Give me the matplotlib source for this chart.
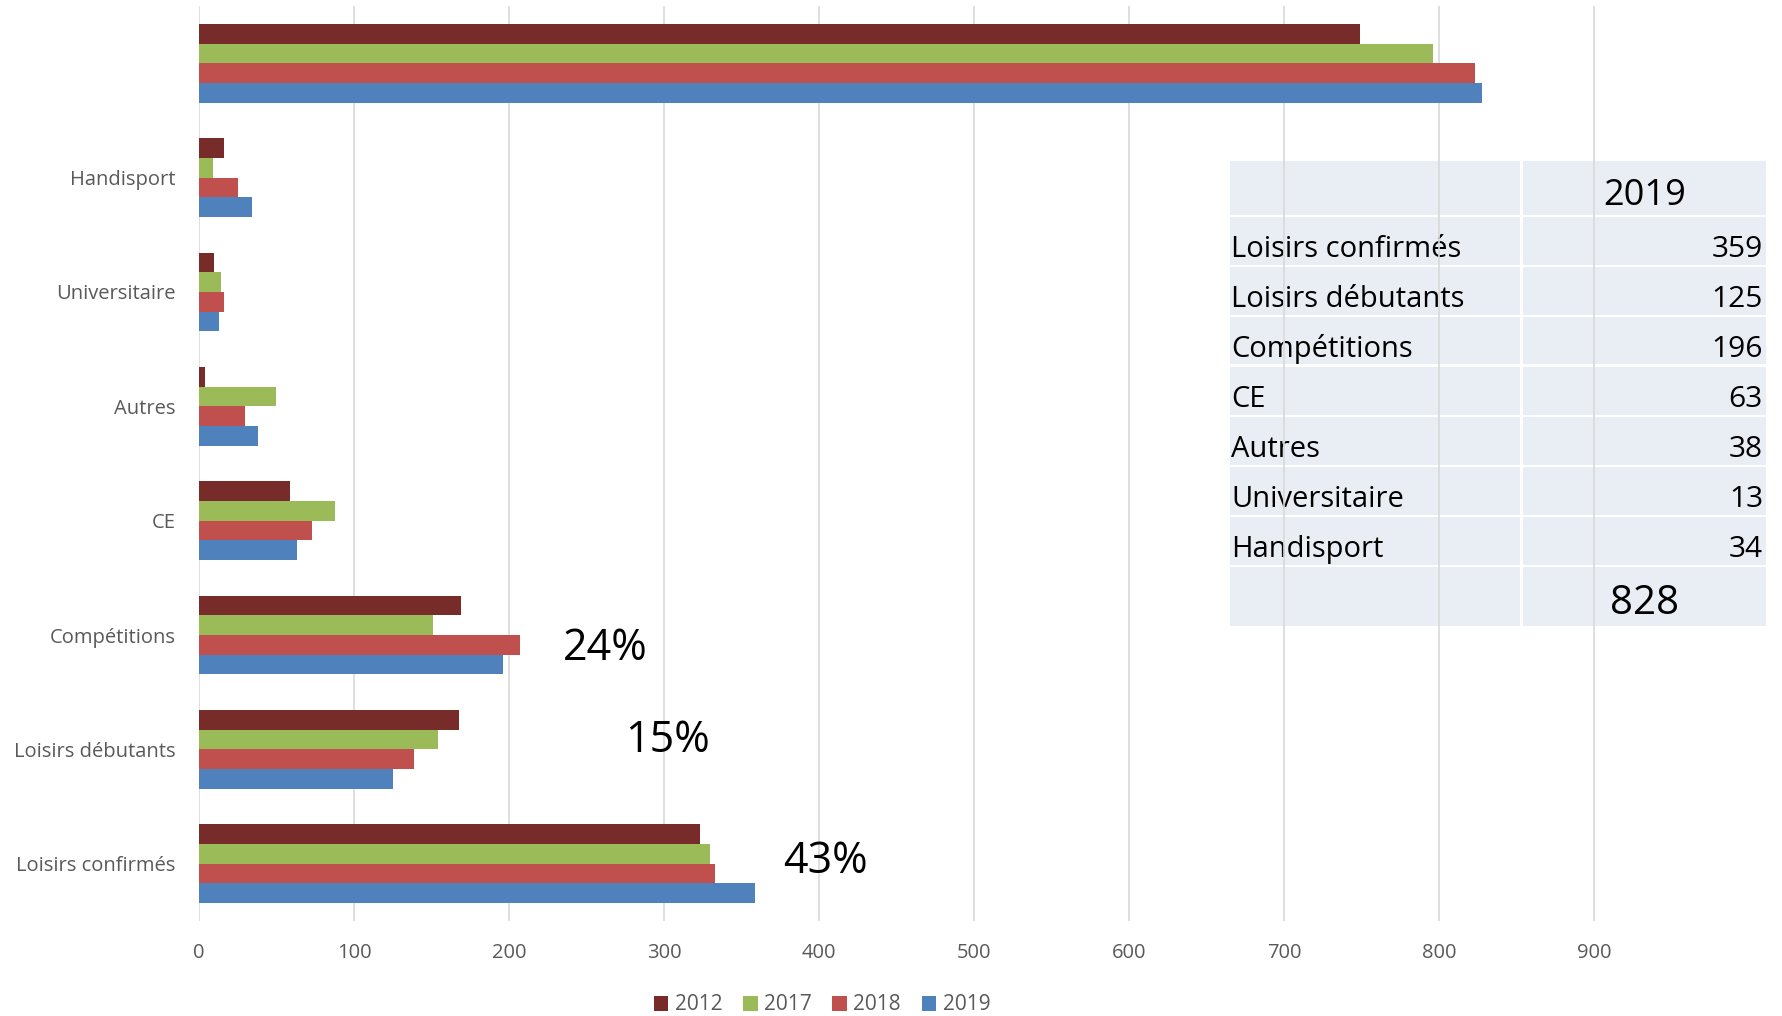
import matplotlib
matplotlib.use("Agg")
import matplotlib.pyplot as plt
from matplotlib.patches import Rectangle, Patch

plt.rcParams['font.family'] = ['Open Sans', 'DejaVu Sans']

# categories from bottom to top, the top blank row is the total
categories = ['Loisirs confirmés', 'Loisirs débutants', 'Compétitions', 'CE',
              'Autres', 'Universitaire', 'Handisport']
years = ['2012', '2017', '2018', '2019']
vals_2012 = [323, 168, 169, 59, 4, 10, 16]
vals_2017 = [330, 154, 151, 88, 50, 14, 9]
vals_2018 = [333, 139, 207, 73, 30, 16, 25]
vals_2019 = [359, 125, 196, 63, 38, 13, 34]
colors = ['#772C2A', '#9BBB59', '#C0504D', '#4F81BD']

pct_labels = ['43%', '15%', '24%']
pct_x = [377, 275, 235]
pct_y = [0.02, 1.08, 1.88]

series = [vals_2012, vals_2017, vals_2018, vals_2019]
W, H = 1783, 1016

fig = plt.figure(figsize=(W / 100, H / 100), dpi=100)
ax = fig.add_axes([199 / W, 1 - 921 / H, 1550 / W, 915 / H])
ax.set_facecolor('none')

labels = categories + ['']
bar_h = 0.172
offsets = [1.5, 0.5, -0.5, -1.5]
for vals, col, off, yr in zip(series, colors, offsets, years):
    data = vals + [sum(vals)]
    ax.barh([i + off * bar_h for i in range(len(data))], data, height=bar_h,
            color=col, zorder=2, label=yr)

for txt, x, y in zip(pct_labels, pct_x, pct_y):
    ax.text(x, y, txt, fontsize=31, va='center', ha='left', color='black')

ax.set_xlim(0, 1000)
ax.set_ylim(-0.5, len(labels) - 0.5)
ax.set_xticks(range(0, 1000, 100))
ax.set_yticks(range(len(labels)))
ax.set_yticklabels(labels)
ax.tick_params(axis='both', length=0, labelsize=14.5, labelcolor='#595959')
ax.tick_params(axis='x', pad=16)
ax.tick_params(axis='y', pad=17)
ax.grid(axis='x', color='#D9D9D9', linewidth=1.2)
ax.set_axisbelow(True)
for s in ax.spines.values():
    s.set_visible(False)

# table drawn behind the chart (gridlines pass over it)
def px(x, y):
    return x / W, 1 - y / H

bg = '#E9EDF4'
col_l, col_s1, col_s2, col_r = 1230, 1520, 1523, 1766

def row(top, bottom):
    for a, b in [(col_l, col_s1), (col_s2, col_r)]:
        x0, y0 = px(a, bottom)
        fig.patches.append(Rectangle((x0, y0), (b - a) / W, (bottom - top) / H,
                                     transform=fig.transFigure, facecolor=bg,
                                     edgecolor='none', zorder=-2))

row(161, 215)
fig.text(*px((col_s2 + col_r) / 2, 205), '2019', fontsize=26, ha='center',
         va='baseline', zorder=-1)
top = 217
for lab, v in zip(categories, vals_2019):
    row(top, top + 47.5)
    fig.text(*px(col_l + 1, top + 40), lab, fontsize=21, ha='left',
             va='baseline', zorder=-1)
    fig.text(*px(col_r - 3, top + 40), str(v), fontsize=21.5, ha='right',
             va='baseline', zorder=-1)
    top += 50
row(567, 626)
fig.text(*px((col_s2 + col_r) / 2, 614), str(sum(vals_2019)), fontsize=29,
         ha='center', va='baseline', zorder=-1)

handles = [Patch(facecolor=c, label=y) for c, y in zip(colors, years)]
fig.legend(handles=handles, loc='center', bbox_to_anchor=(822 / W, 1 - 1005 / H),
           ncol=4, frameon=False, fontsize=15, labelcolor='#595959',
           handlelength=0.7, handleheight=0.7, handletextpad=0.3,
           columnspacing=1.0, borderpad=0)

fig.savefig('out.png', dpi=100)
